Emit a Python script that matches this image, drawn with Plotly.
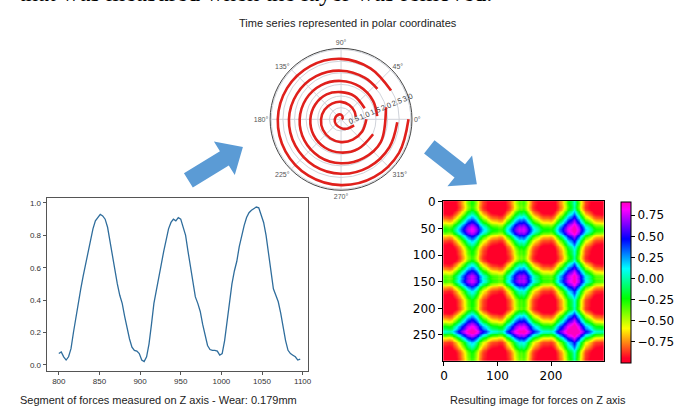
import numpy as np
import plotly.graph_objects as go

W, H = 694, 408

# ---------------- data ----------------
ts_x = list(range(800, 1100, 3))
ts_y = [0.07, 0.08, 0.05, 0.03, 0.05, 0.10, 0.20, 0.29, 0.40, 0.47,
        0.55, 0.62, 0.70, 0.78, 0.84, 0.89, 0.91, 0.93, 0.92, 0.90,
        0.85, 0.76, 0.66, 0.58, 0.50, 0.43, 0.38, 0.30, 0.22, 0.16,
        0.11, 0.09, 0.085, 0.07, 0.03, 0.02, 0.05, 0.13, 0.25, 0.38,
        0.46, 0.55, 0.62, 0.70, 0.78, 0.84, 0.88, 0.90, 0.89, 0.91,
        0.90, 0.85, 0.80, 0.70, 0.60, 0.50, 0.42, 0.38, 0.33, 0.25,
        0.18, 0.12, 0.095, 0.09, 0.09, 0.085, 0.06, 0.07, 0.15, 0.28,
        0.40, 0.50, 0.58, 0.64, 0.73, 0.80, 0.86, 0.91, 0.94, 0.955,
        0.965, 0.975, 0.97, 0.93, 0.88, 0.80, 0.70, 0.58, 0.47, 0.43,
        0.39, 0.32, 0.23, 0.15, 0.09, 0.07, 0.06, 0.05, 0.03, 0.035]

# spiral arms (cumulative angle in degrees, radius)
arm_theta = [
    [0, 45, 90, 135, 180, 225, 270, 300, 335],
    [370, 390, 420, 450, 480, 510, 540, 570, 600, 630, 660, 690, 720],
    [745, 780, 810, 840, 870, 900, 930, 960, 990, 1020, 1055],
    [1085, 1110, 1140, 1170, 1200, 1230, 1260, 1290, 1320, 1350, 1380, 1410, 1455],
    [1480, 1500, 1530, 1560, 1590, 1620, 1650, 1680, 1710, 1740, 1770, 1797],
    [1830, 1860, 1890, 1920, 1950, 1980, 2010, 2040, 2070, 2100, 2130, 2160],
]
arm_r = [
    [0.03, 0.10, 0.20, 0.24, 0.27, 0.31, 0.38, 0.47, 0.62],
    [0.64, 0.67, 0.71, 0.75, 0.78, 0.82, 0.86, 0.90, 0.94, 0.98, 1.01, 1.05, 1.09],
    [1.12, 1.15, 1.17, 1.24, 1.28, 1.32, 1.36, 1.40, 1.43, 1.47, 1.52],
    [1.56, 1.59, 1.62, 1.65, 1.70, 1.74, 1.78, 1.82, 1.86, 1.89, 1.93, 1.97, 2.00],
    [2.04, 2.06, 2.09, 2.14, 2.19, 2.24, 2.27, 2.31, 2.34, 2.37, 2.40, 2.42],
    [2.48, 2.53, 2.60, 2.64, 2.68, 2.72, 2.76, 2.80, 2.83, 2.86, 2.88, 2.90],
]
radial_ticks = [0.5, 1.0, 1.5, 2.0, 2.5, 3.0]
cbar_ticks = [-0.75, -0.5, -0.25, 0.0, 0.25, 0.5, 0.75]

# ---------------- derived ----------------
sp_theta, sp_r = [], []
for th, rr in zip(arm_theta, arm_r):
    sp_theta += th + [None]
    sp_r += rr + [None]

s = np.array(ts_y)
xs = (s - s.min()) / (s.max() - s.min())
phi = np.arccos(np.clip(xs, 0, 1))
gasf = np.cos(phi[:, None] + phi[None, :])
img_idx = [3 * i for i in range(len(ts_y))]

gist_rainbow = [
    [0.0, 'rgb(255,0,41)'], [0.03, 'rgb(255,0,41)'], [0.215, 'rgb(255,255,0)'],
    [0.4, 'rgb(0,255,0)'], [0.586, 'rgb(0,255,255)'], [0.77, 'rgb(0,0,255)'],
    [0.954, 'rgb(255,0,255)'], [1.0, 'rgb(255,0,191)']]


def px(x):
    return x / W


def py(y):
    return 1 - y / H


fig = go.Figure()
fig.add_trace(go.Scatter(x=ts_x, y=ts_y, mode='lines',
                         line=dict(color='#2f6d9c', width=1.3),
                         xaxis='x', yaxis='y', showlegend=False))
fig.add_trace(go.Scatterpolar(r=sp_r, theta=sp_theta, mode='lines',
                              line=dict(color='#e0201c', width=2.6, shape='spline'),
                              connectgaps=False, subplot='polar', showlegend=False))
fig.add_trace(go.Heatmap(z=gasf, x=img_idx, y=img_idx, xaxis='x2', yaxis='y2',
                         colorscale=gist_rainbow, zmin=-0.995, zmax=0.91,
                         zsmooth='best',
                         colorbar=dict(x=px(623), xanchor='left', xpad=0,
                                       y=py(280.3), yanchor='middle', ypad=0,
                                       len=161, lenmode='pixels', thickness=10,
                                       outlinewidth=1, outlinecolor='black',
                                       tickvals=cbar_ticks,
                                       ticktext=[('\u2212' if v < 0 else '') + f"{abs(v):.2f}" for v in cbar_ticks],
                                       ticks='outside', ticklen=4, tickcolor='black',
                                       tickfont=dict(size=12, color='black', family='DejaVu Sans'))))

axfont_small = dict(size=8, color='#333', family='Liberation Sans')
axfont_big = dict(size=12, color='black', family='DejaVu Sans')


def arrow_path(tail, tip, sw, hw, hl):
    tx, ty = tail
    qx, qy = tip
    dx, dy = qx - tx, qy - ty
    L = (dx * dx + dy * dy) ** 0.5
    ux, uy = dx / L, dy / L
    nx, ny = -uy, ux
    bx, by = qx - ux * hl, qy - uy * hl
    pts = [(tx + nx * sw / 2, ty + ny * sw / 2), (bx + nx * sw / 2, by + ny * sw / 2),
           (bx + nx * hw / 2, by + ny * hw / 2), (qx, qy),
           (bx - nx * hw / 2, by - ny * hw / 2), (bx - nx * sw / 2, by - ny * sw / 2),
           (tx - nx * sw / 2, ty - ny * sw / 2)]
    return 'M ' + ' L '.join(f"{px(a):.5f},{py(b):.5f}" for a, b in pts) + ' Z'


shapes = [
    dict(type='path', xref='paper', yref='paper', path=arrow_path((187, 177), (242, 143), 17, 40, 22),
         fillcolor='#5b9bd5', line=dict(width=0)),
    dict(type='path', xref='paper', yref='paper', path=arrow_path((430, 143), (478, 181), 17, 40, 22),
         fillcolor='#5b9bd5', line=dict(width=0)),
]

annotations = [
    dict(text='that was measured when the layer was removed.', x=px(14), y=py(2.5), xref='paper', yref='paper',
         xanchor='left', yanchor='bottom', showarrow=False,
         font=dict(family='Liberation Serif', size=24.5, color='black')),
    dict(text='Time series represented in polar coordinates', x=px(348), y=py(17), xref='paper', yref='paper',
         xanchor='center', yanchor='middle', showarrow=False,
         font=dict(family='Liberation Sans', size=11, color='#222')),
    dict(text='Segment of forces measured on Z axis - Wear: 0.179mm', x=px(157), y=py(400), xref='paper', yref='paper',
         xanchor='center', yanchor='middle', showarrow=False,
         font=dict(family='Liberation Sans', size=11, color='#222')),
    dict(text='Resulting image for forces on Z axis', x=px(540), y=py(400), xref='paper', yref='paper',
         xanchor='center', yanchor='middle', showarrow=False,
         font=dict(family='Liberation Sans', size=11, color='#222')),
]

fig.update_layout(
    width=W, height=H, margin=dict(l=0, r=0, t=0, b=0),
    paper_bgcolor='white', plot_bgcolor='white', showlegend=False,
    xaxis=dict(domain=[px(44), px(308)], range=[785, 1107], anchor='y',
               showline=True, mirror=True, linecolor='#555', linewidth=1,
               ticks='outside', ticklen=3, tickcolor='#555',
               tickvals=[800, 850, 900, 950, 1000, 1050, 1100],
               tickfont=axfont_small, showgrid=False, zeroline=False),
    yaxis=dict(domain=[py(370), py(195)], range=[-0.035, 1.03], anchor='x',
               showline=True, mirror=True, linecolor='#555', linewidth=1,
               ticks='outside', ticklen=3, tickcolor='#555',
               tickvals=[0, 0.2, 0.4, 0.6, 0.8, 1.0], tickformat='.1f',
               tickfont=axfont_small, showgrid=False, zeroline=False),
    xaxis2=dict(domain=[px(444), px(606)], range=[-1.5, 298.5], anchor='y2',
                showline=True, mirror=True, linecolor='black', linewidth=1,
                ticks='outside', ticklen=4, tickcolor='black',
                tickvals=[0, 100, 200], tickfont=axfont_big,
                showgrid=False, zeroline=False),
    yaxis2=dict(domain=[py(360), py(198)], range=[298.5, -1.5], anchor='x2',
                showline=True, mirror=True, linecolor='black', linewidth=1,
                ticks='outside', ticklen=4, tickcolor='black',
                tickvals=[0, 50, 100, 150, 200, 250], tickfont=axfont_big,
                showgrid=False, zeroline=False),
    polar=dict(domain=dict(x=[px(269), px(413)], y=[py(187), py(43)]),
               bgcolor='white',
               angularaxis=dict(rotation=0, direction='counterclockwise', dtick=45,
                                ticksuffix='°', tickfont=dict(size=7, color='#555', family='Liberation Sans'),
                                showline=True, linecolor='#444', linewidth=1,
                                gridcolor='#d0d3da', ticks=''),
               radialaxis=dict(range=[0, 3.05], tickvals=radial_ticks, ticktext=[f"{v:.1f}" for v in radial_ticks],
                               angle=22.5, tickangle=0, showline=False, ticks='',
                               gridcolor='#d0d3da',
                               tickfont=dict(size=7.5, color='#444', family='Liberation Sans'))),
    shapes=shapes, annotations=annotations,
)

fig.write_html('out.html', config={'displayModeBar': False},
               post_script="document.body.style.margin='0';document.body.style.overflow='hidden';")
